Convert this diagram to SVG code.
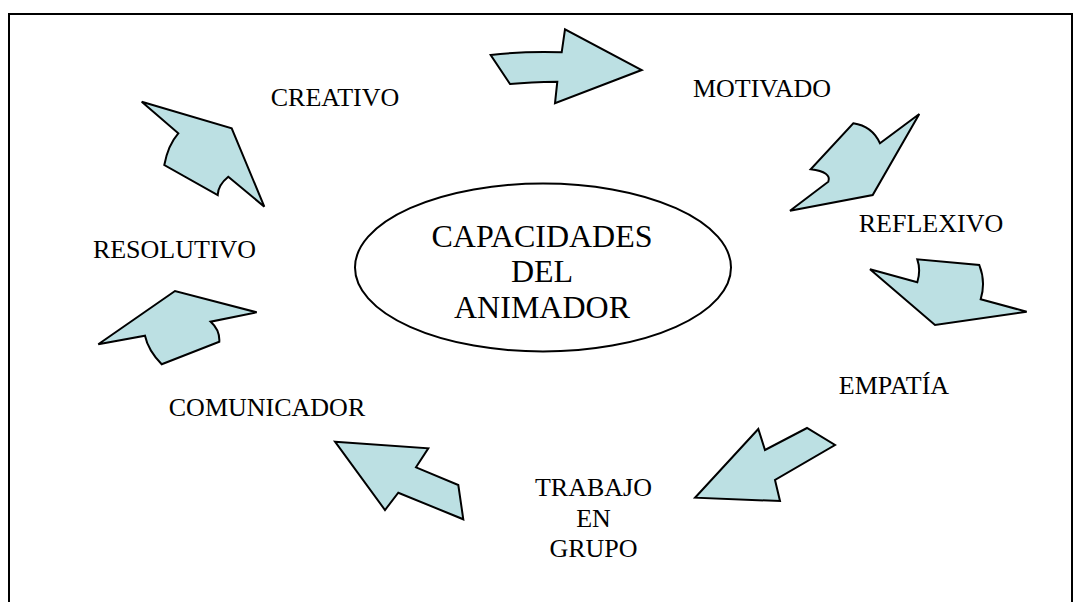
<svg xmlns="http://www.w3.org/2000/svg" width="1074" height="602" viewBox="0 0 1074 602">
<style>
.arrow{fill:#BCE0E3;stroke:#000;stroke-width:2;stroke-linejoin:miter}
.lbl{font-family:"Liberation Serif","Times New Roman",serif;font-size:26px;fill:#000;text-anchor:middle}
.ctr{font-family:"Liberation Serif","Times New Roman",serif;font-size:32px;fill:#000;text-anchor:middle}
</style>
<rect width="1074" height="602" fill="#fff"/>
<path d="M9,602 V14 H1072 V602" fill="none" stroke="#000" stroke-width="2"/>
<g id="connectors">
<path class="arrow" d="M490.7,55 Q525,51 561.7,52.3 L565,29.3 L641.7,70 L555,103.3 L557.3,81.7 Q530,82 510,84 Z"/>
<path class="arrow" d="M919.3,114 L880,143.3 Q872,126 853.3,123.3 L810.7,169.3 Q832,172 828.3,181.7 L790,210.7 L872.7,195 Z"/>
<path class="arrow" d="M870,269.3 L917.3,282.3 Q921,270 917.3,259.3 L979.3,265 Q986,282 980.7,299.3 L1026.7,311.7 L935,325 Z"/>
<path class="arrow" d="M695,497.7 L758.3,429 L765,450 L807,428 L835,445 L775,480 L780,501 Z"/>
<path class="arrow" d="M335,441.7 L428.3,448.3 L416,467.3 L458.3,485 L463.3,519.3 L398.3,492.7 L385,510 Z"/>
<path class="arrow" d="M98.3,344.3 L175,291 L256.7,312.3 L210.7,321.7 Q220,330 219.3,341.7 L161.7,364.3 Q148,350 145,335.7 Z"/>
<path class="arrow" d="M141.7,101.7 L231.7,128.3 L264.3,206.7 L228.3,176.7 Q218,185 217.7,195 L164.3,165 Q168,145 178.3,133.3 Z"/>
</g>
<g id="center">
<ellipse cx="543" cy="267.5" rx="188" ry="84" fill="#fff" stroke="#000" stroke-width="2"/>
<text class="ctr" x="542" y="247">CAPACIDADES</text>
<text class="ctr" x="542" y="282">DEL</text>
<text class="ctr" x="542" y="318">ANIMADOR</text>
</g>
<g id="creativo"><text class="lbl" x="335" y="106">CREATIVO</text></g>
<g id="motivado"><text class="lbl" x="762" y="97">MOTIVADO</text></g>
<g id="reflexivo"><text class="lbl" x="931" y="232">REFLEXIVO</text></g>
<g id="empatia"><text class="lbl" x="894" y="394">EMPATÍA</text></g>
<g id="trabajo"><text class="lbl" x="593.5" y="496">TRABAJO</text><text class="lbl" x="593.5" y="526.5">EN</text><text class="lbl" x="593.5" y="556.5">GRUPO</text></g>
<g id="comunicador"><text class="lbl" x="267" y="416">COMUNICADOR</text></g>
<g id="resolutivo"><text class="lbl" x="174.5" y="258">RESOLUTIVO</text></g>
</svg>
